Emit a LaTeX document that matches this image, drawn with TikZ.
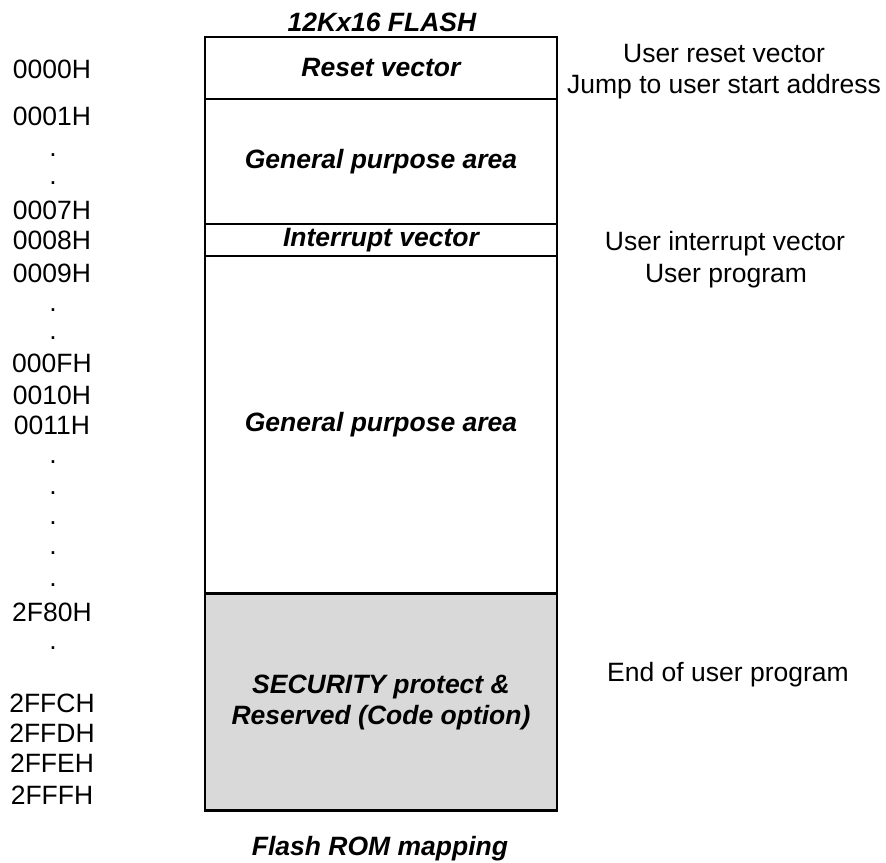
\documentclass[tikz,border=0pt]{standalone}
\usepackage{fontspec}
\setmainfont{Liberation Sans}
\definecolor{secgray}{HTML}{D9D9D9}
\begin{document}
\begin{tikzpicture}[x=1pt,y=-1pt,
  every node/.style={font=\fontsize{26.5}{31}\selectfont, inner sep=0pt, outer sep=0pt},
  region/.style={draw=black, line width=2.2pt, minimum width=352, font=\fontsize{26.5}{31}\selectfont\bfseries\itshape, align=center},
  addr/.style={anchor=base},
  note/.style={anchor=base},
  heading/.style={anchor=base, font=\fontsize{26.5}{31}\selectfont\bfseries\itshape}]
\useasboundingbox (0,0) rectangle (886,862);
% memory regions
\node[region, minimum height=62] (reset) at (381,68) {Reset vector};
\node[region, minimum height=125] (gpa) at (381,161.5) {General purpose area};
\node[region, minimum height=32] (intr) at (381,240) {Interrupt vector};
\node[region, minimum height=337] (gpb) at (381,424.5) {General purpose area};
\node[region, minimum height=217, fill=secgray] (sec) at (381,702) {SECURITY protect \&\\Reserved (Code option)};
% headings
\node[heading] (title) at (382,31) {12Kx16 FLASH};
\node[heading] (caption) at (380,855) {Flash ROM mapping};
% addresses
\node[addr] (a0000) at (52,78) {0000H};
\node[addr] (a0001) at (52,125) {0001H};
\node[addr] (d1) at (53,156.5) {.};
\node[addr] (d2) at (53,184.5) {.};
\node[addr] (a0007) at (52,219) {0007H};
\node[addr] (a0008) at (52,249) {0008H};
\node[addr] (a0009) at (52,282) {0009H};
\node[addr] (d3) at (53,311.5) {.};
\node[addr] (d4) at (53,339.5) {.};
\node[addr] (a000F) at (52,372) {000FH};
\node[addr] (a0010) at (52,404) {0010H};
\node[addr] (a0011) at (52,434) {0011H};
\node[addr] (d5) at (53,463.5) {.};
\node[addr] (d6) at (53,494.5) {.};
\node[addr] (d7) at (53,524.5) {.};
\node[addr] (d8) at (53,554.5) {.};
\node[addr] (d9) at (53,586.5) {.};
\node[addr] (a2F80) at (52,621) {2F80H};
\node[addr] (d10) at (53,649.5) {.};
\node[addr] (a2FFC) at (52,712) {2FFCH};
\node[addr] (a2FFD) at (52,742) {2FFDH};
\node[addr] (a2FFE) at (52,772) {2FFEH};
\node[addr] (a2FFF) at (52,804) {2FFFH};
% notes
\node[note] (n1) at (724,62) {User reset vector};
\node[note] (n2) at (724,93) {Jump to user start address};
\node[note] (n3) at (725,250) {User interrupt vector};
\node[note] (n4) at (726,282) {User program};
\node[note] (n5) at (728,681) {End of user program};
\end{tikzpicture}
\end{document}
